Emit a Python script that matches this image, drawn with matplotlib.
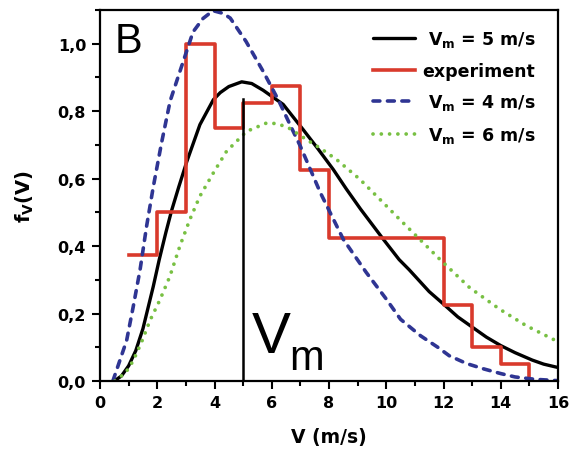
import matplotlib
matplotlib.use("Agg")
import matplotlib.pyplot as plt
from matplotlib.ticker import MultipleLocator, FuncFormatter

# ---- data ----
exp_edges = [1, 2, 3, 4, 5, 6, 7, 8, 9, 10, 11, 12, 13, 14, 15]
exp_values = [0.375, 0.5, 1.0, 0.75, 0.825, 0.875, 0.625, 0.425, 0.425, 0.425, 0.425, 0.225, 0.1, 0.05]

vm5_x = [0.5, 0.75, 1.0, 1.25, 1.5, 1.86, 2.07, 2.3, 2.5, 2.75, 3.03, 3.49, 3.96, 4.2, 4.5, 4.95,
         5.3, 5.7, 6.4, 7.1, 7.6, 8.15, 8.6, 9.1, 9.5, 9.9, 10.45, 10.8, 11.5, 12.0, 12.5, 13.0,
         13.5, 14.0, 14.5, 15.1, 15.5, 16.0]
vm5_y = [0.0, 0.015, 0.045, 0.09, 0.155, 0.28, 0.36, 0.44, 0.505, 0.575, 0.65, 0.76, 0.834, 0.855,
         0.873, 0.887, 0.882, 0.862, 0.82, 0.745, 0.69, 0.627, 0.57, 0.51, 0.465, 0.42, 0.36, 0.33,
         0.265, 0.228, 0.19, 0.16, 0.13, 0.105, 0.084, 0.062, 0.05, 0.04]

vm4_x = [0.45, 0.93, 1.16, 1.4, 1.63, 1.86, 2.15, 2.45, 2.8, 3.25, 3.6, 3.95, 4.3, 4.55, 5.1, 5.7,
         6.25, 6.75, 7.0, 7.7, 8.5, 9.3, 10.0, 10.5, 11.2, 11.8, 12.2, 12.8, 13.4, 14.0, 14.5,
         15.2, 16.0]
vm4_y = [0.0, 0.12, 0.22, 0.33, 0.46, 0.575, 0.706, 0.83, 0.92, 1.035, 1.075, 1.098, 1.09, 1.076,
         1.007, 0.918, 0.83, 0.74, 0.696, 0.558, 0.42, 0.322, 0.243, 0.183, 0.134, 0.10, 0.075,
         0.052, 0.036, 0.022, 0.012, 0.005, 0.001]

vm6_x = [0.52, 0.9, 1.16, 1.45, 1.75, 2.09, 2.44, 2.79, 3.14, 3.49, 3.96, 4.42, 5.12, 5.82, 6.2,
         6.6, 7.21, 7.7, 8.26, 9.08, 9.89, 10.47, 11.29, 11.87, 12.91, 13.96, 14.89, 15.94]
vm6_y = [0.0, 0.025, 0.06, 0.115, 0.18, 0.24, 0.31, 0.40, 0.479, 0.548, 0.617, 0.681, 0.74, 0.765,
         0.763, 0.75, 0.716, 0.69, 0.657, 0.598, 0.529, 0.479, 0.41, 0.361, 0.277, 0.213, 0.164,
         0.119]

vm_marker_x = 5.0
vm_marker_top = 0.835

legend_labels = [r" $\mathbf{V}_\mathbf{m}$ = 5 m/s", "experiment",
                 r" $\mathbf{V}_\mathbf{m}$ = 4 m/s", r" $\mathbf{V}_\mathbf{m}$ = 6 m/s"]

# ---- style ----
plt.rcParams['font.family'] = ['DejaVu Sans']
plt.rcParams['mathtext.fontset'] = 'dejavusans'

RED = "#d93a2c"
BLUE = "#2f3593"
GREEN = "#78c043"

fig = plt.figure(figsize=(5.7, 4.52), dpi=100)
ax = fig.add_axes([100/570, 1-382/452, 458/570, 371/452])

l1, = ax.plot(vm5_x, vm5_y, color="black", lw=2.4, solid_capstyle="round", solid_joinstyle="round")
sx = exp_edges + [exp_edges[-1]]
sy = exp_values + [exp_values[-1], 0.0]
l2, = ax.step(sx, sy, where="post", color=RED, lw=2.6)
l3, = ax.plot(vm4_x, vm4_y, color=BLUE, lw=2.6, linestyle=(0, (1.9, 2.1)), dash_capstyle="round")
l4, = ax.plot(vm6_x, vm6_y, color=GREEN, lw=2.7, linestyle=(0, (0.01, 2.2)), dash_capstyle="round")
ax.plot([vm_marker_x, vm_marker_x], [0, vm_marker_top], color="black", lw=1.8)

ax.set_xlim(0, 16)
ax.set_ylim(0, 1.1)
ax.xaxis.set_major_locator(MultipleLocator(2))
ax.xaxis.set_minor_locator(MultipleLocator(1))
ax.yaxis.set_major_locator(MultipleLocator(0.2))
ax.yaxis.set_minor_locator(MultipleLocator(0.1))
ax.yaxis.set_major_formatter(FuncFormatter(lambda v, p: f"{v:.1f}".replace(".", ",")))
ax.tick_params(which="major", direction="out", length=6, width=1.5, labelsize=11.5, pad=4)
ax.tick_params(which="minor", direction="out", length=3.5, width=1.5)
for lab in ax.get_xticklabels() + ax.get_yticklabels():
    lab.set_fontweight("bold")
for s in ax.spines.values():
    s.set_linewidth(1.6)

ax.set_xlabel("V (m/s)", fontsize=13.5, fontweight="bold", labelpad=12)
ax.set_ylabel(r"$\mathbf{f}_\mathbf{V}\mathbf{(V)}$", fontsize=14, labelpad=16)

ax.text(0.52, 0.976, "B", fontsize=30, family="Liberation Sans", va="baseline", ha="left")
ax.text(5.3, 0.086, "V", fontsize=42, family="Liberation Sans", va="baseline", ha="left")
ax.text(6.6, 0.036, "m", fontsize=30, family="Liberation Sans", va="baseline", ha="left")

leg = ax.legend([l1, l2, l3, l4], legend_labels, loc="upper left",
                bbox_to_anchor=(0.596, 0.948), frameon=False, borderpad=0, borderaxespad=0,
                handlelength=2.4, handletextpad=0.45, labelspacing=0.72,
                prop={"weight": "bold", "size": 12.5})

fig.savefig("out.png", dpi=100)
